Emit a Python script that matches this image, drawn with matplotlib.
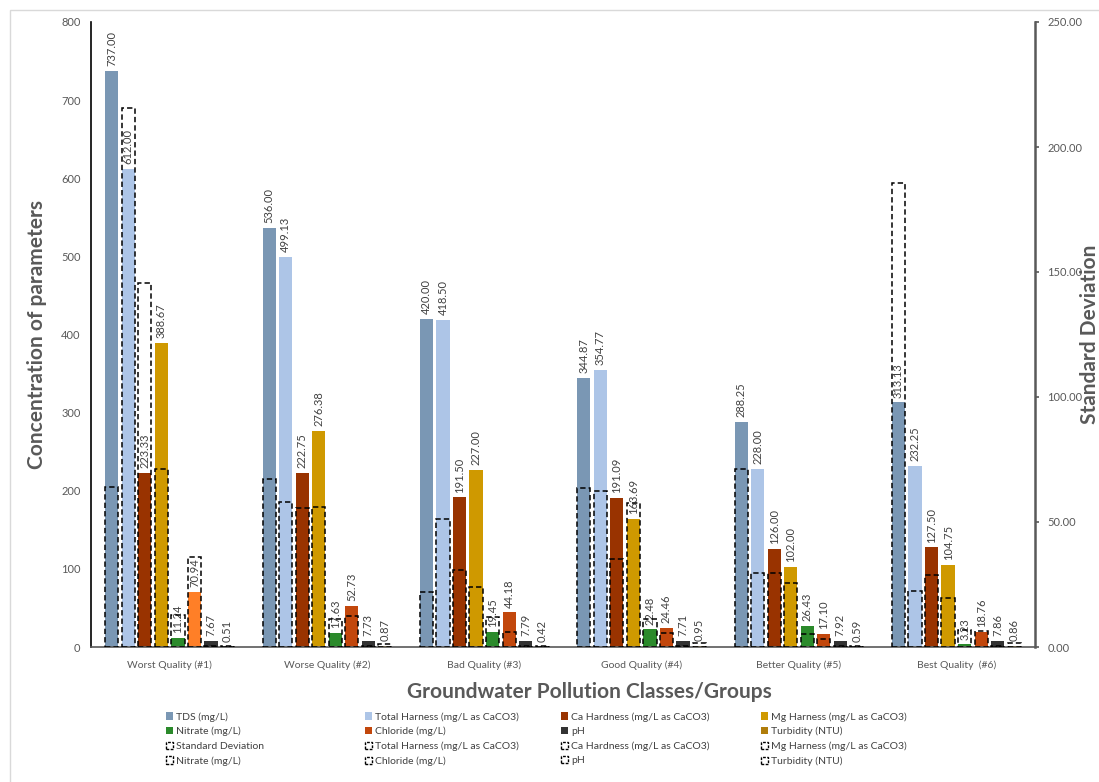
import numpy as np
import matplotlib
matplotlib.use("Agg")
import matplotlib.pyplot as plt
from matplotlib.patches import Patch, Rectangle

plt.rcParams['font.family'] = ['Lato', 'DejaVu Sans']

groups = ["Worst Quality (#1)", "Worse Quality (#2)", "Bad Quality (#3)",
          "Good Quality (#4)", "Better Quality (#5)", "Best Quality  (#6)"]

params = ["TDS (mg/L)", "Total Harness (mg/L as CaCO3)", "Ca Hardness (mg/L as CaCO3)",
          "Mg Harness (mg/L as CaCO3)", "Nitrate (mg/L)", "Chloride (mg/L)", "pH", "Turbidity (NTU)"]
sd_names = ["Standard Deviation", "Total Harness (mg/L as CaCO3)", "Ca Hardness (mg/L as CaCO3)",
            "Mg Harness (mg/L as CaCO3)", "Nitrate (mg/L)", "Chloride (mg/L)", "pH", "Turbidity (NTU)"]

tds = [737.00, 536.00, 420.00, 344.87, 288.25, 313.13]
total_h = [612.00, 499.13, 418.50, 354.77, 228.00, 232.25]
ca_h = [223.33, 222.75, 191.50, 191.09, 126.00, 127.50]
mg_h = [388.67, 276.38, 227.00, 163.69, 102.00, 104.75]
nitrate = [11.24, 17.63, 19.45, 22.48, 26.43, 3.23]
chloride = [70.94, 52.73, 44.18, 24.46, 17.10, 18.76]
ph = [7.67, 7.73, 7.79, 7.71, 7.92, 7.86]
turbidity = [0.51, 0.87, 0.42, 0.95, 0.59, 0.86]

tds_sd = [64.1, 67.2, 22.1, 63.5, 71.1, 185.7]
total_h_sd = [215.5, 58.2, 51.1, 62.4, 29.5, 22.5]
ca_h_sd = [145.7, 55.5, 30.8, 35.1, 29.7, 28.8]
mg_h_sd = [71.1, 55.9, 23.9, 57.7, 25.5, 19.5]
nitrate_sd = [13.0, 11.4, 11.9, 11.1, 5.2, 6.8]
chloride_sd = [35.9, 12.3, 5.9, 5.7, 3.1, 6.5]
ph_sd = [0.6, 0.4, 0.3, 0.4, 0.5, 0.4]
turbidity_sd = [0.3, 1.1, 0.3, 1.5, 0.4, 1.7]

values = [tds, total_h, ca_h, mg_h, nitrate, chloride, ph, turbidity]
sds = [tds_sd, total_h_sd, ca_h_sd, mg_h_sd, nitrate_sd, chloride_sd, ph_sd, turbidity_sd]

colors = ['#7A97B4', '#ADC5E7', '#993300', '#CF9900', '#2B8A2B', '#C2470C', '#333333', '#B07D0B']
chloride_colors = ['#FF7F27', '#C2470C', '#C2470C', '#C2470C', '#C2470C', '#C2470C']

fig = plt.figure(figsize=(10.99, 7.82), dpi=100)
W, H = 1099, 782
ax = fig.add_axes([91 / W, 1 - 647 / H, (1035 - 91) / W, (647 - 22) / H])
ax2 = ax.twinx()

x = np.arange(len(groups))
pitch = 0.105
width = 0.084
label_color = '#404040'

for j, (vals, sdv) in enumerate(zip(values, sds)):
    pos = x + (j - 3.5) * pitch
    col = chloride_colors if j == 5 else colors[j]
    ax.bar(pos, vals, width=width, color=col, zorder=2)
    for p, v in zip(pos, vals):
        ax.annotate(f"{v:.2f}", (p, v), xytext=(0, 3.5), textcoords='offset points',
                    rotation=90, ha='center', va='bottom', fontsize=8, color=label_color)
    ax2.bar(pos, sdv, width=width, facecolor='none', edgecolor='black',
            linestyle=(0, (3.5, 2)), linewidth=1.1, zorder=3)

ax.set_xlim(-0.5, 5.5)
ax.set_ylim(0, 800)
ax.set_yticks(np.arange(0, 801, 100))
ax2.set_ylim(0, 250)
ax2.set_yticks(np.arange(0, 251, 50))
ax2.set_yticklabels([f"{t:.2f}" for t in np.arange(0, 251, 50)])

ax.set_xticks(x)
ax.set_xticklabels(groups, fontsize=7.5, color='#595959')
ax.tick_params(axis='x', length=0, pad=10)
ax.tick_params(axis='y', length=0, pad=7.5, labelsize=8, labelcolor='#595959')
ax2.tick_params(axis='y', length=3, width=1.2, color='#595959', pad=6, labelsize=8,
                labelcolor='#595959', direction='out')

for a in (ax, ax2):
    a.spines['top'].set_visible(False)
ax.spines['left'].set_color('black')
ax.spines['left'].set_linewidth(1.2)
ax2.spines['left'].set_visible(False)
ax.spines['right'].set_visible(False)
ax2.spines['right'].set_color('#595959')
ax2.spines['right'].set_linewidth(1.8)
ax.spines['bottom'].set_color('#595959')
ax.spines['bottom'].set_linewidth(1.2)
ax2.spines['bottom'].set_visible(False)

ax.set_xlabel("Groundwater Pollution Classes/Groups", fontsize=15, fontweight='bold',
              color='#595959')
ax.xaxis.set_label_coords((589 - 91) / 944, (647 - 682) / 625)
ax.set_ylabel("Concentration of parameters", fontsize=15, fontweight='bold',
              color='#595959')
ax.yaxis.set_label_coords((47 - 91) / 944, 0.5)
ax2.set_ylabel("Standard Deviation", fontsize=15, fontweight='bold',
               color='#595959')
ax2.yaxis.set_label_coords((1080 - 91) / 944, 0.5)

# Legend: 4 fixed-width columns, row-major order
solid_handles = [Patch(facecolor=colors[j], edgecolor='none') for j in range(8)]
dash_handles = [Patch(facecolor='none', edgecolor='black', linestyle=(0, (2, 1)), linewidth=1.0)
                for j in range(8)]
all_handles = solid_handles + dash_handles
all_labels = params + sd_names
col_x = [166, 365, 561, 761]
for c in range(4):
    hs = [all_handles[4 * r + c] for r in range(4)]
    ls = [all_labels[4 * r + c] for r in range(4)]
    fig.legend(hs, ls, loc='upper left', bbox_to_anchor=(col_x[c] / W, 1 - 712 / H),
               frameon=False, handlelength=0.7, handleheight=0.7,
               handletextpad=0.3, labelspacing=0.5, borderaxespad=0, borderpad=0,
               labelcolor='#404040',
               prop={'family': ['Liberation Sans Narrow', 'Lato'], 'size': 7.5})

fig.patches.append(Rectangle((10 / W, -0.05), 1.1, 1 - 10 / H + 0.05, transform=fig.transFigure,
                             facecolor='none', edgecolor='#D9D9D9', linewidth=1.0))

fig.savefig("out.png", dpi=100)
